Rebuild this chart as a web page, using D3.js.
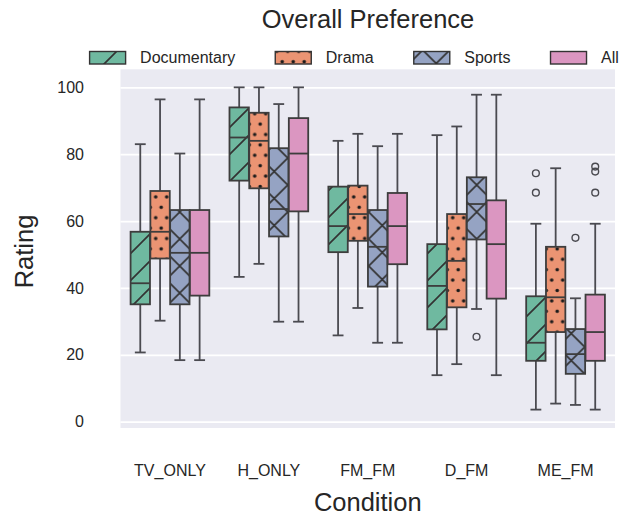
<!DOCTYPE html>
<html>
<head>
<meta charset="utf-8">
<title>Overall Preference</title>
<script src="https://cdn.jsdelivr.net/npm/d3@7"></script>
<style>
  body { margin: 0; background: #fff; }
  svg text { font-family: "Liberation Sans", Arial, sans-serif; fill: #262626; }
</style>
</head>
<body>
<svg id="chart" width="624" height="516"></svg>
<script>
// categories
var conditions = ["TV_ONLY", "H_ONLY", "FM_FM", "D_FM", "ME_FM"];
var genres = ["Documentary", "Drama", "Sports", "All"];
var yTicks = [0, 20, 40, 60, 80, 100];

// box stats per condition: [low whisker, q1, median, q3, high whisker]
var documentary = [
  [20.7, 35.1, 41.4, 56.8, 83.0],
  [43.3, 72.1, 85.0, 94.0, 100],
  [25.8, 50.7, 58.5, 70.3, 84.0],
  [13.9, 27.6, 40.6, 53.1, 85.7],
  [3.6, 18.2, 23.6, 37.5, 59.2]
];
var drama = [
  [30.2, 48.8, 56.8, 69.0, 96.4],
  [47.2, 69.8, 84.0, 92.4, 100],
  [34.0, 54.1, 62.1, 70.6, 86.1],
  [17.2, 34.2, 48.1, 62.1, 88.3],
  [5.4, 26.8, 37.2, 52.3, 75.8]
];
var sports = [
  [18.4, 35.1, 50.5, 63.3, 80.2],
  [29.9, 55.4, 63.6, 81.8, 95.0],
  [23.6, 40.4, 52.3, 63.3, 82.4],
  [33.7, 54.5, 65.1, 73.1, 97.8],
  [5.0, 14.3, 20.2, 27.7, 36.9]
];
var allGenres = [
  [18.4, 37.7, 50.5, 63.3, 96.4],
  [29.9, 62.9, 80.2, 90.8, 100],
  [23.6, 47.1, 58.5, 68.4, 86.1],
  [13.9, 36.8, 53.1, 66.2, 97.8],
  [3.6, 18.2, 26.8, 38.0, 59.2]
];

// fliers per condition
var documentaryOut = [[], [], [], [], [74.3, 68.5]];
var dramaOut = [[], [], [], [], []];
var sportsOut = [[], [], [], [25.4], [55.0]];
var allOut = [[], [], [], [], [76.3, 74.8, 68.5]];

var stats = [documentary, drama, sports, allGenres];
var fliers = [documentaryOut, dramaOut, sportsOut, allOut];

var fills = ["#6fb9a0", "#eb9473", "#95a3c3", "#db96c1"];
var hatchIds = ["h-diag", "h-dots", "h-cross", null];
var edge = "#3d3d3d", whiskerCol = "#4a4a50";

var svg = d3.select("#chart");
var pLeft = 120.5, pRight = 615, pTop = 69.3, pBottom = 428;

var x = d3.scaleBand().domain(conditions).range([pLeft, pRight]);
var y = d3.scaleLinear().domain([-1.9, 105.4]).range([pBottom, pTop]);
var hue = d3.scaleBand().domain(genres).range([0, x.bandwidth() * 0.8]);

// hatch patterns
var defs = svg.append("defs");
genres.forEach(function(g, i) {
  if (!hatchIds[i]) return;
  var p;
  if (hatchIds[i] == "h-dots") {
    p = defs.append("pattern").attr("id", hatchIds[i]).attr("patternUnits", "userSpaceOnUse")
      .attr("x", 1.7).attr("y", 9.7).attr("width", 11).attr("height", 20.8);
    p.append("rect").attr("width", 11).attr("height", 20.8).attr("fill", fills[i]);
    [[0, 0], [11, 0], [0, 20.8], [11, 20.8], [5.5, 10.4]].forEach(function(pt) {
      p.append("circle").attr("cx", pt[0]).attr("cy", pt[1]).attr("r", 1.8).attr("fill", "#1a1a1a");
    });
  } else {
    var s = 27;
    p = defs.append("pattern").attr("id", hatchIds[i]).attr("patternUnits", "userSpaceOnUse")
      .attr("x", hatchIds[i] == "h-diag" ? 6 : 17.7).attr("y", hatchIds[i] == "h-diag" ? 0 : 23)
      .attr("width", s).attr("height", s);
    p.append("rect").attr("width", s).attr("height", s).attr("fill", fills[i]);
    var d = "M0," + s + "L" + s + ",0M-3,3L3,-3M" + (s - 3) + "," + (s + 3) + "L" + (s + 3) + "," + (s - 3);
    if (hatchIds[i] == "h-cross") d += "M0,0L" + s + "," + s + "M-3," + (s - 3) + "L3," + (s + 3) + "M" + (s - 3) + ",-3L" + (s + 3) + ",3";
    p.append("path").attr("d", d).attr("stroke", "#333").attr("stroke-width", 1.7).attr("fill", "none");
  }
});
function fillOf(i) { return hatchIds[i] ? "url(#" + hatchIds[i] + ")" : fills[i]; }

// background + grid
svg.append("rect").attr("x", pLeft).attr("y", pTop).attr("width", pRight - pLeft).attr("height", pBottom - pTop)
  .attr("fill", "#eaeaf2");
svg.append("g").attr("transform", "translate(" + pLeft + ",0)")
  .call(d3.axisLeft(y).tickValues(yTicks).tickSize(-(pRight - pLeft)).tickFormat(""))
  .call(function(g) {
    g.select(".domain").remove();
    g.selectAll(".tick line").attr("stroke", "#fff").attr("stroke-width", 1.8);
  });

// y tick labels
svg.append("g").attr("transform", "translate(" + pLeft + ",0)")
  .call(d3.axisLeft(y).tickValues(yTicks).tickSize(0).tickPadding(36.5))
  .call(function(g) {
    g.select(".domain").remove();
    g.attr("font-family", null);
    g.selectAll("text").attr("font-size", 16).attr("fill", "#262626");
  });

// x tick labels
svg.append("g").attr("transform", "translate(0," + pBottom + ")")
  .call(d3.axisBottom(x).tickSize(0).tickPadding(36.6))
  .call(function(g) {
    g.select(".domain").remove();
    g.attr("font-family", null);
    g.selectAll("text").attr("font-size", 16).attr("fill", "#262626");
  });

// boxes
var boxes = [];
conditions.forEach(function(c, ci) {
  genres.forEach(function(g, gi) {
    boxes.push({ ci: ci, gi: gi, s: stats[gi][ci], out: fliers[gi][ci],
      cx: x(c) + x.bandwidth() * 0.1 + hue(g) + hue.bandwidth() / 2,
      w: hue.bandwidth() * 0.98 });
  });
});

var bg = svg.append("g").selectAll("g").data(boxes).enter().append("g");
bg.append("line").attr("x1", function(d) { return d.cx; }).attr("x2", function(d) { return d.cx; })
  .attr("y1", function(d) { return y(d.s[0]); }).attr("y2", function(d) { return y(d.s[1]); })
  .attr("stroke", whiskerCol).attr("stroke-width", 1.8);
bg.append("line").attr("x1", function(d) { return d.cx; }).attr("x2", function(d) { return d.cx; })
  .attr("y1", function(d) { return y(d.s[3]); }).attr("y2", function(d) { return y(d.s[4]); })
  .attr("stroke", whiskerCol).attr("stroke-width", 1.8);
[0, 4].forEach(function(k) {
  bg.append("line").attr("x1", function(d) { return d.cx - d.w * 0.28; }).attr("x2", function(d) { return d.cx + d.w * 0.28; })
    .attr("y1", function(d) { return y(d.s[k]); }).attr("y2", function(d) { return y(d.s[k]); })
    .attr("stroke", whiskerCol).attr("stroke-width", 1.8);
});
bg.append("rect").attr("x", function(d) { return d.cx - d.w / 2; }).attr("width", function(d) { return d.w; })
  .attr("y", function(d) { return y(d.s[3]); }).attr("height", function(d) { return y(d.s[1]) - y(d.s[3]); })
  .attr("fill", function(d) { return fillOf(d.gi); })
  .attr("stroke", edge).attr("stroke-width", 1.8);
bg.append("line").attr("x1", function(d) { return d.cx - d.w / 2; }).attr("x2", function(d) { return d.cx + d.w / 2; })
  .attr("y1", function(d) { return y(d.s[2]); }).attr("y2", function(d) { return y(d.s[2]); })
  .attr("stroke", edge).attr("stroke-width", 1.8);
bg.selectAll("circle").data(function(d) { return d.out.map(function(v) { return { cx: d.cx, v: v }; }); })
  .enter().append("circle")
  .attr("cx", function(d) { return d.cx; }).attr("cy", function(d) { return y(d.v); })
  .attr("r", 3.4).attr("fill", "none").attr("stroke", whiskerCol).attr("stroke-width", 1.4);

// title and axis labels
svg.append("text").attr("x", 368).attr("y", 28).attr("text-anchor", "middle")
  .attr("font-size", 25.5).text("Overall Preference");
svg.append("text").attr("x", (pLeft + pRight) / 2).attr("y", 511).attr("text-anchor", "middle")
  .attr("font-size", 25.5).text("Condition");
svg.append("text").attr("transform", "translate(33,251.5) rotate(-90)").attr("text-anchor", "middle")
  .attr("font-size", 25.5).text("Rating");

// legend
var lx = 89.6;
genres.forEach(function(g, i) {
  var item = svg.append("g");
  item.append("rect").attr("x", lx).attr("y", 51.5).attr("width", 36).attr("height", 12.5)
    .attr("fill", fillOf(i)).attr("stroke", "#333").attr("stroke-width", 1.4);
  var t = item.append("text").attr("x", lx + 50.5).attr("y", 63).attr("font-size", 16).text(g);
  lx += 50.5 + t.node().getComputedTextLength() + 40;
});
</script>
</body>
</html>
